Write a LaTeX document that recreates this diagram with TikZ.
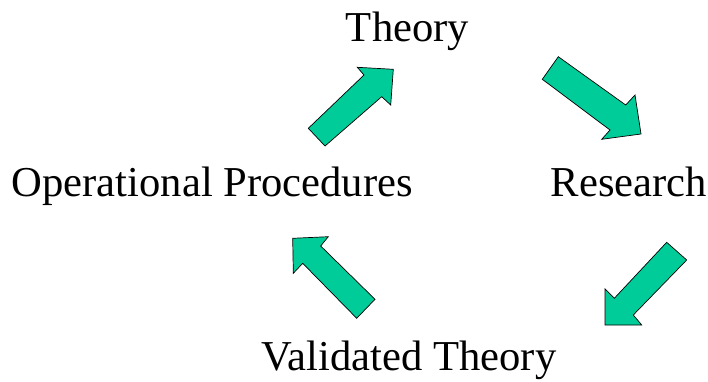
\documentclass[tikz,border=0pt]{standalone}
\usepackage{fontspec}
\setmainfont{Liberation Serif}
\definecolor{arrowgreen}{RGB}{0,204,153}
\tikzset{
  lbl/.style={font=\fontsize{42.6}{48}\selectfont, inner sep=0pt, anchor=base},
  blockarrow/.style={fill=arrowgreen, draw=black, line width=0.7pt, line join=miter}
}
\begin{document}
\begin{tikzpicture}[x=1pt,y=1pt]
\useasboundingbox (0,0) rectangle (708,381);
\node[lbl] (theory) at (407.5,339.3) {Theory};
\node[lbl] (ops) at (212.3,184.3) {Operational Procedures};
\node[lbl] (research) at (629,184.3) {Research};
\node[lbl] (valid) at (409,11) {Validated Theory};
% arrow: operational procedures -> theory
\draw[blockarrow] (308.3,252.7) -- (364,306) -- (357.3,313.7) -- (393.3,311.7) -- (390.7,276) -- (381.7,284.3) -- (325,235) -- cycle;
% arrow: theory -> research
\draw[blockarrow] (558.3,324.3) -- (625.7,276) -- (635,286) -- (641,247) -- (601.7,241.7) -- (610,251) -- (542.3,301.7) -- cycle;
% arrow: research -> validated theory
\draw[blockarrow] (666.7,138.7) -- (686.7,121) -- (633.3,66) -- (641.7,56) -- (605,56) -- (605,92) -- (614.3,82.7) -- cycle;
% arrow: validated theory -> operational procedures
\draw[blockarrow] (292.7,142.7) -- (328.3,144.3) -- (320.7,135) -- (375,81.7) -- (356.7,62.7) -- (302.7,117.7) -- (293.3,107.7) -- cycle;
\end{tikzpicture}
\end{document}
